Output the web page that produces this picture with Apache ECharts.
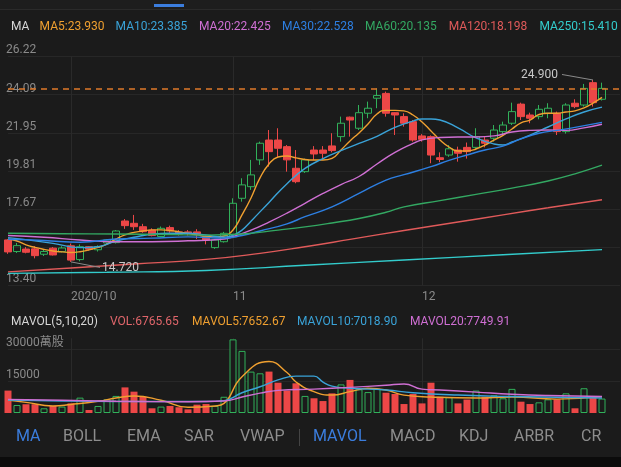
<!DOCTYPE html>
<html><head><meta charset="utf-8">
<script src="https://cdn.jsdelivr.net/npm/echarts/dist/echarts.min.js"></script>
<style>html,body{margin:0;padding:0;background:#1b1b1b;}#c{width:621px;height:467px;}</style>
</head><body><div id="c"></div>
<script>
// ---------------- DATA ----------------
const dates = ['2020-09-22','2020-09-23','2020-09-24','2020-09-25','2020-09-28','2020-09-29','2020-09-30',
 '2020-10-05','2020-10-06','2020-10-07','2020-10-08','2020-10-09','2020-10-12','2020-10-14','2020-10-15','2020-10-16',
 '2020-10-19','2020-10-20','2020-10-21','2020-10-22','2020-10-23','2020-10-27','2020-10-28','2020-10-29','2020-10-30',
 '2020-11-02','2020-11-03','2020-11-04','2020-11-05','2020-11-06','2020-11-09','2020-11-10','2020-11-11','2020-11-12','2020-11-13',
 '2020-11-16','2020-11-17','2020-11-18','2020-11-19','2020-11-20','2020-11-23','2020-11-24','2020-11-25','2020-11-26','2020-11-27','2020-11-30',
 '2020-12-01','2020-12-02','2020-12-03','2020-12-04','2020-12-07','2020-12-08','2020-12-09','2020-12-10','2020-12-11',
 '2020-12-14','2020-12-15','2020-12-16','2020-12-17','2020-12-18','2020-12-21','2020-12-22','2020-12-23','2020-12-24',
 '2020-12-28','2020-12-29','2020-12-30'];
const monthLabels = ['2020/10','11','12'];

// [open, close, low, high]
const ohlc = [
 [15.95,15.28,15.17,16.00],[15.30,15.63,15.22,15.78],[15.44,15.26,15.20,15.55],[15.45,15.07,14.92,15.60],
 [15.15,15.30,15.05,15.40],[15.49,15.11,15.08,15.55],[15.30,15.50,15.25,15.60],[15.62,14.82,14.72,15.75],
 [14.85,15.57,14.75,15.70],[15.57,15.43,15.35,15.60],[15.40,15.58,15.30,15.65],[15.78,15.95,15.70,16.00],
 [15.80,16.45,15.75,16.50],[17.01,16.75,16.57,17.12],[16.88,16.69,16.51,17.35],[16.69,16.41,16.35,16.85],
 [16.50,16.20,16.15,16.60],[16.14,16.60,16.10,16.70],[16.64,16.45,16.35,16.75],[16.40,16.27,16.20,16.50],
 [16.40,16.30,16.20,16.50],[16.40,16.27,16.00,16.55],[16.13,15.95,15.70,16.20],[15.52,15.95,15.45,16.00],
 [15.85,16.32,15.80,16.40],[16.13,18.00,16.05,18.28],[18.28,19.03,18.09,19.40],[18.93,19.59,18.75,20.43],
 [20.43,21.36,20.15,21.45],[21.54,20.89,20.05,22.10],[21.54,21.08,20.60,22.20],[21.17,20.43,19.77,21.26],
 [19.96,19.21,19.12,20.98],[19.77,20.43,19.70,20.50],[20.98,20.76,20.43,21.20],[20.98,20.80,20.43,21.20],
 [21.21,20.95,20.85,21.92],[21.73,22.48,21.45,22.85],[22.82,22.66,21.73,22.85],[22.20,23.07,22.10,23.50],
 [23.04,23.32,22.76,23.69],[23.88,24.03,23.32,24.43],[24.15,23.04,22.85,24.25],[23.07,22.94,21.82,23.10],
 [22.85,22.48,22.29,23.04],[22.57,21.54,21.45,22.66],[21.77,21.58,21.45,21.87],[21.73,20.70,20.24,21.80],
 [20.55,20.45,20.30,20.85],[20.70,21.05,20.60,21.26],[20.98,20.80,20.33,21.17],[21.13,20.89,20.50,21.40],
 [21.13,21.73,21.05,22.20],[21.54,21.36,21.13,21.73],[21.64,22.10,21.45,22.38],[22.01,22.38,21.82,22.57],
 [22.48,23.13,22.38,23.63],[23.55,22.85,22.66,23.63],[22.94,22.76,22.48,23.07],[22.85,23.26,22.70,23.50],
 [23.04,23.32,22.76,23.60],[23.04,22.01,21.82,23.13],[22.01,23.50,21.90,23.60],[23.60,23.41,23.32,23.82],
 [23.50,24.43,23.41,24.68],[24.75,23.63,23.41,24.90],[23.82,24.43,23.75,24.75]];

const volumes = [10500,3750,4100,4100,2200,3300,3000,4500,7200,1400,
 3300,6400,8000,12000,10000,7600,2200,3000,3300,2700,
 1700,3900,4200,3300,7600,34500,29100,19400,18600,19400,
 14200,10500,13900,8000,6900,5600,9200,13400,15500,11100,
 9800,11300,9500,8900,4200,8900,4500,14200,7600,7400,
 4500,6300,10500,7600,8300,6900,11300,5300,4200,5000,
 6400,6400,9200,2200,11600,7400,6766];

const ma5 = [16.00,15.89,15.67,15.53,15.42,15.33,15.28,15.25,15.29,15.39,
 15.53,15.72,16.00,16.23,16.37,16.45,16.51,16.51,16.48,16.40,
 16.31,16.23,16.14,16.12,16.17,16.51,17.35,18.30,19.42,20.20,
 20.59,20.65,20.54,20.45,20.42,20.42,20.51,20.98,21.49,21.94,
 22.44,23.00,23.20,23.20,23.17,22.94,22.55,22.05,21.54,21.15,
 20.93,20.93,21.04,21.26,21.54,21.80,22.16,22.50,22.66,22.97,
 23.04,23.04,23.11,23.17,23.34,23.61,23.93];
const ma10 = [[0,16.08],[3,15.9],[5,15.76],[8,15.52],[10,15.57],[12,15.89],[14,16.1],[16,16.27],[18,16.32],[20,16.32],
 [22,16.23],[24,16.1],[25,16.2],[26,16.5],[27,17.0],[29,18.05],[31,19.1],[33,19.95],[35,20.5],[37,20.95],[39,21.35],
 [41,21.75],[43,22.25],[45,22.6],[46,22.72],[47,22.72],[48,22.66],[50,22.22],[52,21.66],[54,21.32],[55,21.26],
 [56,21.43],[58,21.82],[60,22.27],[62,22.72],[64,23.11],[66,23.385]];
const ma20 = [[0,16.2],[4,16.1],[8,15.95],[12,15.85],[16,15.85],[20,15.9],[24,16.0],[25,16.13],[27,16.5],[29,16.95],
 [31,17.45],[33,18.0],[35,18.55],[37,19.05],[39,19.5],[41,20.2],[43,20.85],[45,21.35],[46,21.55],[48,21.68],
 [50,21.71],[52,21.71],[54,21.77],[56,21.99],[58,22.08],[60,22.10],[62,22.08],[64,22.22],[66,22.425]];
const ma30 = [[0,15.99],[4,15.92],[8,15.82],[12,16.0],[16,16.05],[20,16.12],[24,16.05],[26,16.2],[28,16.45],[31,16.85],
 [33,17.25],[36,17.8],[39,18.55],[42,19.3],[44,19.6],[47,20.05],[49,20.4],[51,20.7],[53,20.98],[55,21.2],
 [57,21.6],[59,21.92],[61,22.08],[63,22.25],[66,22.528]];
const ma60 = [[0,16.32],[6,16.3],[12,16.28],[18,16.25],[22,16.22],[26,16.28],[30,16.5],[33,16.68],[36,16.9],[39,17.15],
 [42,17.5],[44,17.8],[48,18.15],[52,18.5],[56,18.85],[60,19.25],[63,19.65],[66,20.135]];
const ma120 = [[0,14.16],[7,14.38],[14,14.6],[22,14.86],[28,15.2],[33,15.57],[38,15.98],[44,16.48],[50,16.95],[55,17.35],
 [60,17.75],[66,18.198]];
const ma250 = [[0,14.08],[11,14.14],[22,14.24],[33,14.53],[44,14.83],[55,15.12],[66,15.41]];

const mavol5 = [[0,6100],[2,5000],[5,3300],[7,4000],[10,5500],[12,7000],[14,8000],[17,6000],[20,2700],[23,3300],
 [24,4500],[26,17000],[29,24100],[31,19000],[32,14500],[34,10000],[36,8400],[38,10000],[40,11600],[42,10800],
 [44,8400],[47,7500],[52,7000],[56,7500],[61,6500],[66,7652.67]];
const mavol10 = [[0,6100],[6,5600],[12,5400],[18,5400],[22,5400],[24,5800],[26,9500],[28,12300],[30,15500],[32,17300],
 [34,17300],[35,14500],[36,12600],[38,11600],[42,10800],[45,9500],[50,8400],[56,7700],[66,7018.9]];
const mavol20 = [[0,6400],[6,6000],[12,5500],[20,5300],[24,5600],[26,7500],[28,9300],[30,10600],[34,11200],[38,12000],
 [42,13000],[44,13600],[46,11200],[48,10800],[52,9800],[56,8800],[60,8200],[66,7749.91]];

const maNames = ['MA5','MA10','MA20','MA30','MA60','MA120','MA250'];
const maValues = ['23.930','23.385','22.425','22.528','20.135','18.198','15.410'];
const volNames = ['VOL','MAVOL5','MAVOL10','MAVOL20'];
const volValues = ['6765.65','7652.67','7018.90','7749.91'];

const yTicks = [13.40, 15.537, 17.673, 19.81, 21.947, 24.083, 26.22];
const yTickLabels = ['13.40','','17.67','19.81','21.95','24.09','26.22'];
const volTicks = [15000, 30000];
const volTickLabels = ['15000','30000萬股'];
const tabs = ['MA','BOLL','EMA','SAR','VWAP','MAVOL','MACD','KDJ','ARBR','CR'];
const activeTabs = ['MA','MAVOL'];

// ---------------- STYLE / LAYOUT ----------------
const BG = '#1b1b1b';
const UP = '#31b15a', DOWN = '#ec4747';
const maColors = ['#f0a030','#3aa3d8','#cf6fd3','#2d7fe2','#33a862','#e05a5a','#33cccc'];
const volColors = ['#e0666b','#f0a030','#3aa3d8','#cf6fd3'];
const FONT = 'Roboto, "Noto Sans CJK TC", sans-serif';

const axisCats = dates.concat(['','']);
const monthStarts = [];
for (let i = 1; i < dates.length; i++) if (dates[i].slice(0,7) !== dates[i-1].slice(0,7)) monthStarts.push(i);
const isMonthStart = (idx) => monthStarts.indexOf(idx) >= 0;

const chart = echarts.init(document.getElementById('c'), null, {renderer:'canvas'});

function xAxisCfg(grid, showLabel) {
  return {
    type:'category', gridIndex:grid, data:axisCats, boundaryGap:false,
    axisLine:{show:false}, axisTick:{show:false},
    axisLabel:{show:showLabel, interval:(i)=>isMonthStart(i), align:'left', margin:5,
      color:'#8a8a8a', fontSize:12, fontFamily:FONT,
      formatter:(v,i)=>{const k=monthStarts.indexOf(i); return k>=0 ? monthLabels[k] : '';}},
    splitLine:{show:true, interval:(i)=>isMonthStart(i), lineStyle:{color:'#2a2a2a', width:1}}
  };
}

const maSeries = [ma5, ma10, ma20, ma30, ma60, ma120, ma250].map((d, k) => ({
  type:'line', name:maNames[k], xAxisIndex:0, yAxisIndex:0,
  data: Array.isArray(d[0]) ? d : d.map((v,i)=>[i,v]),
  smooth:true, symbol:'none', lineStyle:{width:1.4, color:maColors[k]}, z:3, silent:true
}));
const volMaSeries = [mavol5, mavol10, mavol20].map((d,k)=>({
  type:'line', xAxisIndex:1, yAxisIndex:1, data:d, smooth:true, symbol:'none',
  lineStyle:{width:1.4, color:volColors[k+1]}, z:3, silent:true
}));

const lastClose = ohlc[ohlc.length-1][1];

chart.setOption({
  animation:false,
  backgroundColor:BG,
  grid:[{left:8, width:612, top:56.4, height:229.1},
        {left:8, width:612, top:338.3, height:74.7}],
  xAxis:[xAxisCfg(0,true), xAxisCfg(1,false)],
  yAxis:[
    {type:'value', gridIndex:0, min:13.40, max:26.22, axisLine:{show:false},
     axisTick:{show:false, customValues:yTicks},
     splitLine:{show:true, lineStyle:{color:'#272727', width:1}},
     axisLabel:{inside:true, customValues:yTicks, verticalAlign:'bottom', margin:-2,
       color:'#8a8a8a', fontSize:12, fontFamily:FONT,
       formatter:(v)=>{const k=yTicks.findIndex(t=>Math.abs(t-v)<1e-6); return k>=0?yTickLabels[k]:'';}}},
    {type:'value', gridIndex:1, min:0, max:35000, axisLine:{show:false},
     axisTick:{show:false, customValues:volTicks},
     splitLine:{show:true, lineStyle:{color:'#272727', width:1}},
     axisLabel:{inside:true, customValues:volTicks, verticalAlign:'bottom', margin:-2,
       color:'#8a8a8a', fontSize:12, fontFamily:FONT,
       formatter:(v)=>{const k=volTicks.indexOf(v); return k>=0?volTickLabels[k]:'';}}}
  ],
  series:[
    {type:'candlestick', xAxisIndex:0, yAxisIndex:0, data:ohlc, barWidth:7, z:2,
     itemStyle:{color:'transparent', color0:DOWN, borderColor:UP, borderColor0:DOWN, borderWidth:1},
     markLine:{silent:true, symbol:'none', label:{show:false},
       lineStyle:{color:'#e07a2a', type:[6,5], width:1.5},
       data:[{yAxis:lastClose}]}},
    ...maSeries,
    {type:'bar', xAxisIndex:1, yAxisIndex:1, barWidth:7, z:2,
     data:volumes.map((v,i)=>{const up=ohlc[i][1]>=ohlc[i][0];
       return {value:v, itemStyle: up ? {color:BG, borderColor:UP, borderWidth:1} : {color:DOWN}};})},
    ...volMaSeries
  ]
});

// ---------- texts / annotations ----------
const g = [];
function txt(x, y, s, color, size, align) {
  g.push({type:'text', x:x, y:y, silent:true, z:50,
    style:{text:s, fill:color, font:(size||12)+'px '+FONT, align:align||'left', verticalAlign:'middle'}});
}
// top strip
g.push({type:'rect', shape:{x:0,y:0,width:621,height:9}, style:{fill:'#1d1d1d'}, silent:true});
g.push({type:'rect', shape:{x:154,y:4,width:30,height:3}, style:{fill:'#3b7ddd'}, silent:true});
g.push({type:'line', shape:{x1:0,y1:9.5,x2:621,y2:9.5}, style:{stroke:'#2a2a2a', lineWidth:1}, silent:true});
// MA legend
const maLegendX = [39.6, 115.6, 199, 282, 365, 448.7, 539.4];
txt(11, 26.7, 'MA', '#d6d6d6', 12);
maNames.forEach((n,k)=>txt(maLegendX[k], 26.7, n+':'+maValues[k], maColors[k], 12));
// volume legend
const volLegendX = [110, 192, 297, 410];
txt(11, 322, 'MAVOL(5,10,20)', '#d6d6d6', 12);
volNames.forEach((n,k)=>txt(volLegendX[k], 322, n+':'+volValues[k], volColors[k], 12));
// bottom tabs
const tabX = [16, 63, 127, 184, 240, 313, 390, 459, 514, 581];
tabs.forEach((t,k)=>txt(tabX[k], 437, t, activeTabs.indexOf(t)>=0 ? '#3b7ddd' : '#8d8d8d', 16));
g.push({type:'line', shape:{x1:299.5,y1:429,x2:299.5,y2:446}, style:{stroke:'#444', lineWidth:1}, silent:true});
g.push({type:'rect', shape:{x:0,y:457,width:621,height:10}, style:{fill:'#0b0b0b'}, silent:true});

// high / low annotations positioned via the chart's own scales
let hiIdx = 0, loIdx = 0;
ohlc.forEach((d,i)=>{ if (d[3] > ohlc[hiIdx][3]) hiIdx = i; if (d[2] < ohlc[loIdx][2]) loIdx = i; });
const hp = chart.convertToPixel({gridIndex:0}, [hiIdx, ohlc[hiIdx][3]]);
const lp = chart.convertToPixel({gridIndex:0}, [loIdx, ohlc[loIdx][2]]);
g.push({type:'line', shape:{x1:hp[0]-31, y1:hp[1]-5.5, x2:hp[0], y2:hp[1]}, style:{stroke:'#8a8a8a', lineWidth:1}, silent:true, z:50});
txt(hp[0]-35, hp[1]-5, ohlc[hiIdx][3].toFixed(3), '#c8c8c8', 12, 'right');
g.push({type:'line', shape:{x1:lp[0], y1:lp[1], x2:lp[0]+29, y2:lp[1]+5.5}, style:{stroke:'#8a8a8a', lineWidth:1}, silent:true, z:50});
txt(lp[0]+31, lp[1]+6.5, ohlc[loIdx][2].toFixed(3), '#c8c8c8', 12, 'left');

chart.setOption({graphic:{elements:g}});
</script>
</body></html>
